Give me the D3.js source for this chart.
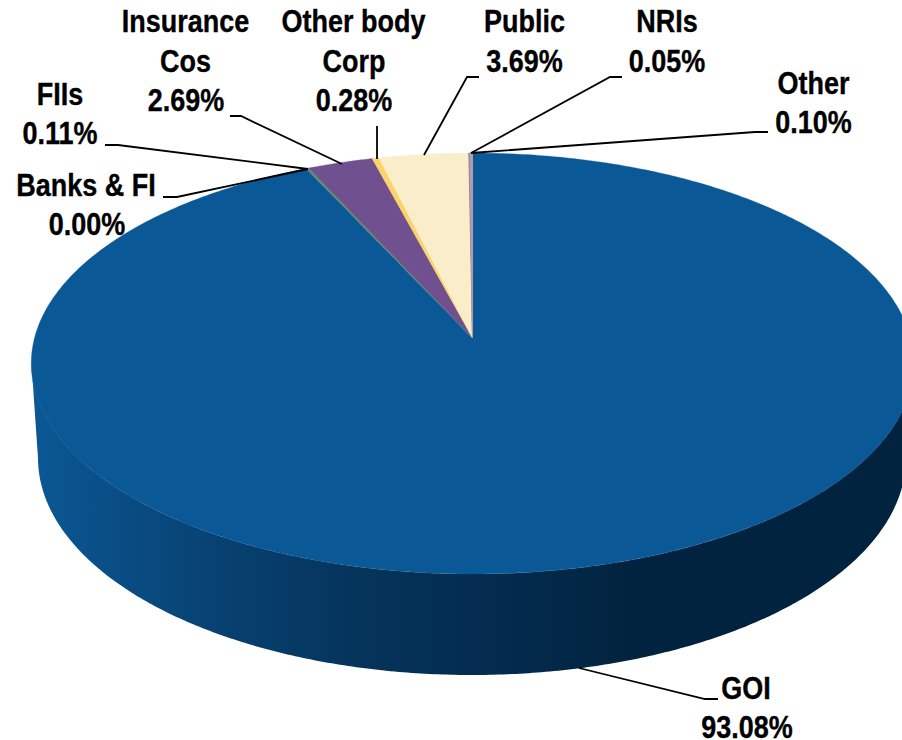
<!DOCTYPE html>
<html><head><meta charset="utf-8">
<script src="https://cdn.jsdelivr.net/npm/d3@7/dist/d3.min.js"></script>
<style>html,body{margin:0;padding:0;background:#fff;overflow:hidden}svg{display:block}
text{font-family:"Liberation Sans",Arial,sans-serif;font-weight:700;font-size:31px;fill:#000;stroke:#000;stroke-width:.35px;text-anchor:middle}</style>
</head><body><svg id="c" width="902" height="740"></svg>
<script>
const categories=["GOI","Banks & FI","FIIs","Insurance Cos","Other body Corp","Public","NRIs","Other"];
const shares=[93.08,0.00,0.11,2.69,0.28,3.69,0.05,0.10];
const sliceColors=["#0A5895","#4F81BD","#5F8B73","#70508F","#FCD36B","#FAEDC9","#8E7FA8","#B59CA9"];

// label layout: text lines with centre x and baselines, and leader line vertices
const labelLines=[
 [["GOI",746,699],["93.08%",747,738]],
 [["Banks & FI",86,196],["0.00%",87,235]],
 [["FIIs",60,105],["0.11%",60,144]],
 [["Insurance",185.5,32],["Cos",185.5,72],["2.69%",186,111]],
 [["Other body",353.5,32],["Corp",354,72],["0.28%",354,111]],
 [["Public",524.5,32],["3.69%",524.5,72]],
 [["NRIs",667,32],["0.05%",667,72]],
 [["Other",813.5,94],["0.10%",813.5,133]]
];
const leaders=[
 [[718,699],[705,699],[579,668]],
 [[163,197],[177,197],[308,169]],
 [[105,145],[118,145],[308,169]],
 [[230,116],[241,116],[342,164]],
 [[377,126],[377,159]],
 [[479,77],[467,77],[424,155]],
 [[622,77],[610,77],[471,153]],
 [[768,132],[755,132],[471,153]]
];
const sideStops=[[0,"#0A5896"],[0.09,"#0A4E85"],[0.228,"#07406F"],[0.386,"#05335A"],[0.56,"#032A4C"],[0.69,"#02233F"],[1,"#02233F"]];

const svg=d3.select("#c");
const apex=[472.5,338], B=438, A=207.4, K=0.1211;
// perspective projection of the unit disc onto the picture
const project=(a,r=1)=>{const u=r*Math.sin(a),v=r*Math.cos(a),w=1+K*v;
  return [apex[0]+B*u/w, apex[1]-A*v/w];};
const line=d3.line();
const pie=d3.pie().value(d=>d).sort(null).startAngle(0).endAngle(2*Math.PI);
const arcs=pie(shares);
const rim=(a0,a1)=>{const n=Math.max(2,Math.ceil((a1-a0)/0.01));
  return d3.range(n+1).map(i=>project(a0+(a1-a0)*i/n));};

// gradient
const defs=svg.append("defs");
const g=defs.append("linearGradient").attr("id","side").attr("gradientUnits","userSpaceOnUse")
 .attr("x1",32).attr("x2",902).attr("y1",0).attr("y2",0);
g.selectAll("stop").data(sideStops).join("stop").attr("offset",d=>d[0]).attr("stop-color",d=>d[1]);

// side wall: top rim's widest points down to lower ellipse
const low={cx:472,cy:458,rx:434,ry:217};
const lowPts=d3.range(0,Math.PI+0.005,0.01).map(t=>[low.cx+low.rx*Math.cos(t),low.cy+low.ry*Math.sin(t)]);
const rimRightToLeft=d3.range(0,Math.PI+0.005,0.01).map(t=>[472.5+441*Math.cos(t),363.5+210.5*Math.sin(t)]);
svg.append("path").attr("d",line([...lowPts,...rimRightToLeft.slice().reverse()])+"Z").attr("fill","url(#side)");

// top face
svg.append("g").selectAll("path").data(arcs).join("path")
 .attr("d",d=>line([apex,...rim(d.startAngle,d.endAngle)])+"Z")
 .attr("fill",(d,i)=>sliceColors[i])
 .attr("stroke",(d,i)=>sliceColors[i]).attr("stroke-width",(d,i)=>d.value<0.2?0.9:0.3);

// leaders
svg.append("g").selectAll("path").data(leaders).join("path")
 .attr("d",d=>line(d)).attr("fill","none").attr("stroke","#000").attr("stroke-width",1.8);

// labels
const sx=0.87;
svg.append("g").selectAll("g").data(categories).join("g").each(function(c,i){
  d3.select(this).selectAll("text").data(labelLines[i]).join("text")
   .attr("transform",d=>`translate(${d[1]},${d[2]}) scale(${sx},1)`).text(d=>d[0]);
});
</script></body></html>
